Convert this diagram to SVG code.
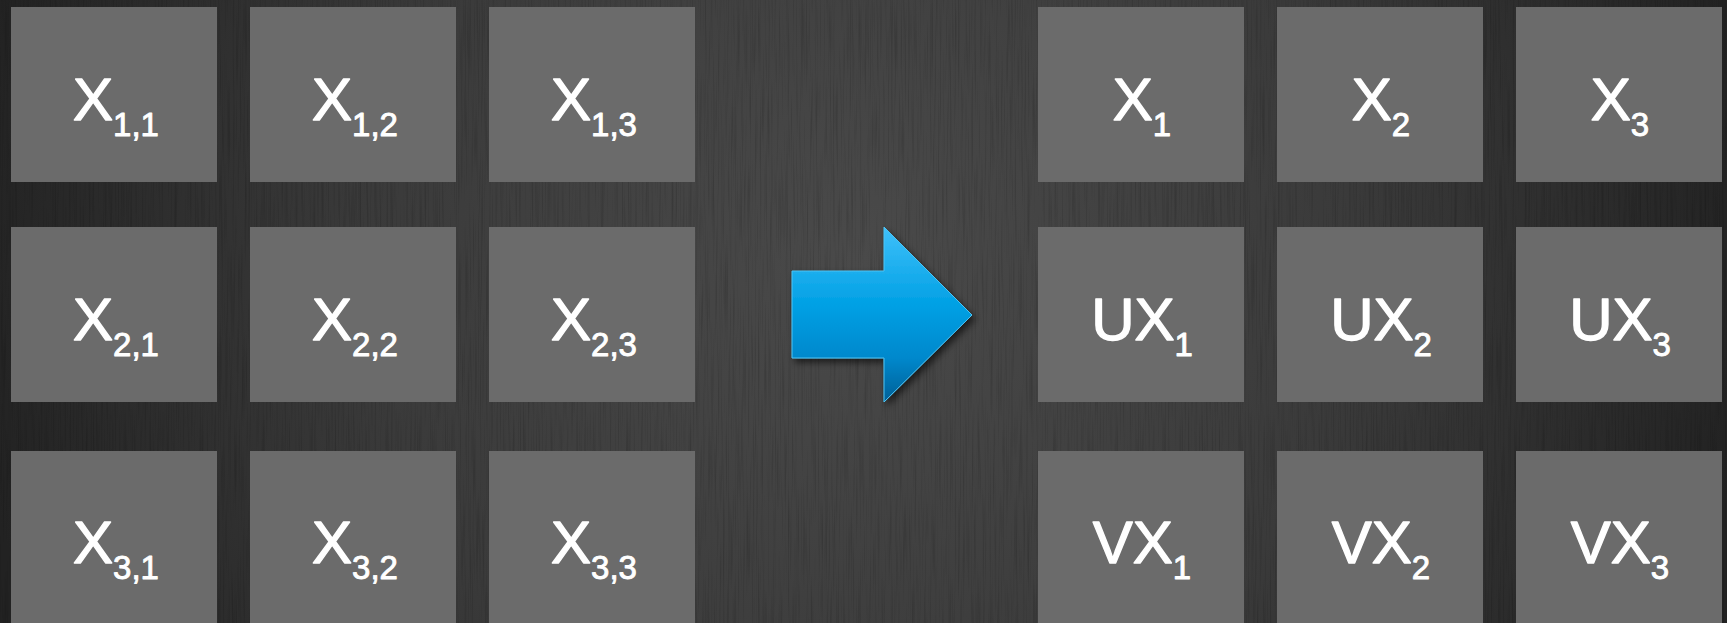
<svg xmlns="http://www.w3.org/2000/svg" width="1727" height="623" viewBox="0 0 1727 623">
  <defs>
    <radialGradient id="bg" cx="860" cy="260" r="900" gradientUnits="userSpaceOnUse">
      <stop offset="0" stop-color="#4a4a4a"/>
      <stop offset="0.55" stop-color="#3a3a3a"/>
      <stop offset="1" stop-color="#222222"/>
    </radialGradient>
    <linearGradient id="arrowFill" x1="0" y1="0" x2="0" y2="1">
      <stop offset="0" stop-color="#3fc0fa"/>
      <stop offset="0.45" stop-color="#00a0e4"/>
      <stop offset="0.75" stop-color="#0088cc"/>
      <stop offset="1" stop-color="#005f96"/>
    </linearGradient>
    <filter id="streaks" x="0" y="0" width="100%" height="100%">
      <feTurbulence type="fractalNoise" baseFrequency="0.6 0.012" numOctaves="2" seed="7" result="n"/>
      <feColorMatrix in="n" type="matrix" values="0 0 0 0 0  0 0 0 0 0  0 0 0 0 0  0 0 0 -2.2 1.15" result="a"/>
      <feComposite in="a" in2="SourceGraphic" operator="in"/>
    </filter>
    <filter id="shadow" x="-20%" y="-20%" width="150%" height="150%">
      <feDropShadow dx="3" dy="4" stdDeviation="3.5" flood-color="#000" flood-opacity="0.6"/>
    </filter>
    <style>
      .cell { fill: #6b6b6b; }
      .lbl { fill: #ffffff; stroke: #ffffff; stroke-width: 1.3px; stroke-linejoin: round; font-family: "Liberation Sans", Arial, sans-serif; font-size: 60px; text-anchor: middle; }
      .sub { font-size: 33px; stroke-width: 0.9px; }
    </style>
  </defs>

  <!-- backdrop -->
  <rect width="1727" height="623" fill="url(#bg)"/>
  <rect width="1727" height="623" fill="#1e1e1e" opacity="0.16" filter="url(#streaks)"/>

  <!-- source matrix -->
  <g id="x11"><rect class="cell" x="11" y="7" width="206" height="175"/><text class="lbl" x="116" y="120">X<tspan class="sub" dy="16">1,1</tspan></text></g>
  <g id="x12"><rect class="cell" x="250" y="7" width="206" height="175"/><text class="lbl" x="355" y="120">X<tspan class="sub" dy="16">1,2</tspan></text></g>
  <g id="x13"><rect class="cell" x="489" y="7" width="206" height="175"/><text class="lbl" x="594" y="120">X<tspan class="sub" dy="16">1,3</tspan></text></g>

  <g id="x21"><rect class="cell" x="11" y="227" width="206" height="175"/><text class="lbl" x="116" y="340">X<tspan class="sub" dy="16">2,1</tspan></text></g>
  <g id="x22"><rect class="cell" x="250" y="227" width="206" height="175"/><text class="lbl" x="355" y="340">X<tspan class="sub" dy="16">2,2</tspan></text></g>
  <g id="x23"><rect class="cell" x="489" y="227" width="206" height="175"/><text class="lbl" x="594" y="340">X<tspan class="sub" dy="16">2,3</tspan></text></g>

  <g id="x31"><rect class="cell" x="11" y="451" width="206" height="175"/><text class="lbl" x="116" y="563">X<tspan class="sub" dy="16">3,1</tspan></text></g>
  <g id="x32"><rect class="cell" x="250" y="451" width="206" height="175"/><text class="lbl" x="355" y="563">X<tspan class="sub" dy="16">3,2</tspan></text></g>
  <g id="x33"><rect class="cell" x="489" y="451" width="206" height="175"/><text class="lbl" x="594" y="563">X<tspan class="sub" dy="16">3,3</tspan></text></g>

  <!-- transformation arrow -->
  <g id="connectors">
    <path d="M792,271 L884,271 L884,227 L972,315 L884,402 L884,358 L792,358 Z" fill="url(#arrowFill)" stroke="#4cc4f5" stroke-width="1" filter="url(#shadow)"/>
  </g>

  <!-- result rows -->
  <g id="r1"><rect class="cell" x="1038" y="7" width="206" height="175"/><text class="lbl" x="1142" y="120">X<tspan class="sub" dy="16">1</tspan></text></g>
  <g id="r2"><rect class="cell" x="1277" y="7" width="206" height="175"/><text class="lbl" x="1381" y="120">X<tspan class="sub" dy="16">2</tspan></text></g>
  <g id="r3"><rect class="cell" x="1516" y="7" width="206" height="175"/><text class="lbl" x="1620" y="120">X<tspan class="sub" dy="16">3</tspan></text></g>

  <g id="u1"><rect class="cell" x="1038" y="227" width="206" height="175"/><text class="lbl" x="1142" y="340">UX<tspan class="sub" dy="16">1</tspan></text></g>
  <g id="u2"><rect class="cell" x="1277" y="227" width="206" height="175"/><text class="lbl" x="1381" y="340">UX<tspan class="sub" dy="16">2</tspan></text></g>
  <g id="u3"><rect class="cell" x="1516" y="227" width="206" height="175"/><text class="lbl" x="1620" y="340">UX<tspan class="sub" dy="16">3</tspan></text></g>

  <g id="v1"><rect class="cell" x="1038" y="451" width="206" height="175"/><text class="lbl" x="1142" y="563">VX<tspan class="sub" dy="16">1</tspan></text></g>
  <g id="v2"><rect class="cell" x="1277" y="451" width="206" height="175"/><text class="lbl" x="1381" y="563">VX<tspan class="sub" dy="16">2</tspan></text></g>
  <g id="v3"><rect class="cell" x="1516" y="451" width="206" height="175"/><text class="lbl" x="1620" y="563">VX<tspan class="sub" dy="16">3</tspan></text></g>
</svg>
